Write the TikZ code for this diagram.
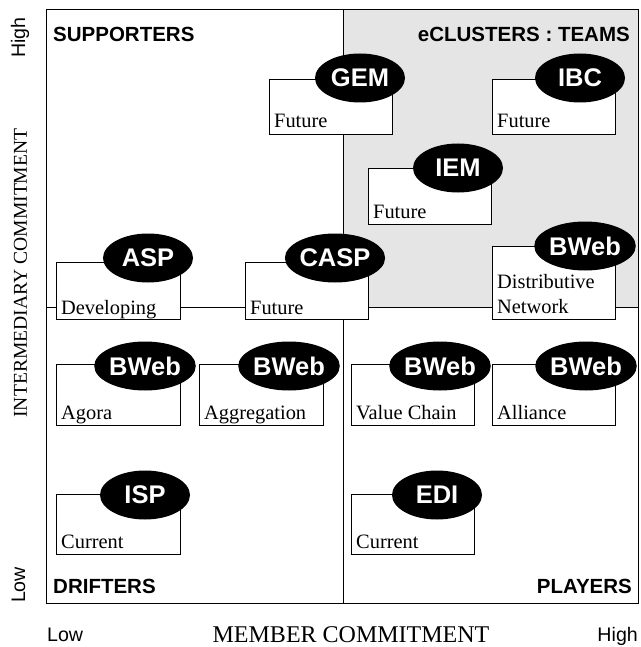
\documentclass[tikz,border=0pt]{standalone}
\usepackage{fontspec}
\setmainfont{Liberation Serif}
\newfontfamily\lsans{Liberation Sans}
\usetikzlibrary{shapes.geometric}
\tikzset{
  frameline/.style={draw=black, line width=1pt},
  cbox/.style={draw=black, line width=1pt, fill=white, anchor=north west, inner sep=0pt, minimum width=123pt},
  tag/.style={ellipse, fill=black, text=white, inner sep=0pt, minimum width=90pt, minimum height=49pt, font=\lsans\bfseries\fontsize{25.5}{26}\selectfont},
  btext/.style={anchor=base west, inner sep=0pt, font=\fontsize{20.4}{25}\selectfont, align=left},
  quad/.style={inner sep=0pt, font=\lsans\bfseries\fontsize{20.5}{22}\selectfont},
  axlab/.style={inner sep=0pt, font=\lsans\fontsize{19.6}{20}\selectfont},
  axtitle/.style={inner sep=0pt}
}
\begin{document}
\begin{tikzpicture}[x=1pt,y=-1pt]
\useasboundingbox (0,0) rectangle (640,647);
% shaded quadrant
\fill[gray!20] (343,10) rectangle (638,307);
% mid lines and frame
\coordinate (ml) at (46,307);
\coordinate (mr) at (638,307);
\coordinate (mt) at (343,10);
\coordinate (mb) at (343,603);
\draw[frameline] (ml) -- (mr);
\draw[frameline] (mt) -- (mb);
\draw[frameline] (46,10) rectangle (638,603);
% quadrant labels
\node[quad, anchor=base west] (supp) at (53,42) {SUPPORTERS};
\node[quad, anchor=base east] (team) at (630,42) {eCLUSTERS : TEAMS};
\node[quad, anchor=base west] (drift) at (53,593) {DRIFTERS};
\node[quad, anchor=base east] (play) at (632,593) {PLAYERS};
% axis labels
\node[axlab, anchor=base west] (xlow) at (47,641) {Low};
\node[axlab, anchor=base east] (xhigh) at (638,641) {High};
\node[axtitle, anchor=base, font=\fontsize{24}{26}\selectfont] (xtitle) at (351,642) {MEMBER COMMITMENT};
\node[axlab, anchor=base, rotate=90] (yhigh) at (25,37.5) {High};
\node[axlab, anchor=base, rotate=90] (ylow) at (25,585) {Low};
\node[axtitle, anchor=base, rotate=90, font=\fontsize{19.6}{22}\selectfont] (ytitle) at (27,273) {INTERMEDIARY COMMITMENT};
% boxes
\node[cbox, minimum height=55pt] (gemb) at (269,79) {};
\node[btext] (gemt) at (274,128) {Future};
\node[tag] (gem) at (360,78) {GEM};

\node[cbox, minimum height=55pt] (ibcb) at (492,79) {};
\node[btext] (ibct) at (497,128) {Future};
\node[tag] (ibc) at (580,78) {IBC};

\node[cbox, minimum height=56pt] (iemb) at (368,168) {};
\node[btext] (iemt) at (373,218) {Future};
\node[tag] (iem) at (458,168) {IEM};

\node[cbox, minimum height=57pt, minimum width=124pt] (aspb) at (56,262) {};
\node[btext] (aspt) at (61,314) {Developing};
\node[tag] (asp) at (148,258) {ASP};

\node[cbox, minimum height=57pt] (caspb) at (245,262) {};
\node[btext] (caspt) at (250,314) {Future};
\node[tag] (casp) at (335,258) {CASP};

\node[cbox, minimum height=73pt] (dnb) at (492,246) {};
\node[btext] (dnt) at (497,313) {Distributive\\Network};
\node[tag] (dn) at (585,246) {BWeb};

\node[cbox, minimum height=61pt, minimum width=124pt] (agb) at (56,364) {};
\node[btext] (agt) at (61,419) {Agora};
\node[tag] (ag) at (145,366) {BWeb};

\node[cbox, minimum height=61pt, minimum width=124pt] (aggb) at (199,364) {};
\node[btext] (aggt) at (204,419) {Aggregation};
\node[tag] (agg) at (289,366) {BWeb};

\node[cbox, minimum height=61pt] (vcb) at (351,364) {};
\node[btext] (vct) at (356,419) {Value Chain};
\node[tag] (vc) at (440,366) {BWeb};

\node[cbox, minimum height=61pt] (alb) at (492,364) {};
\node[btext] (alt) at (497,419) {Alliance};
\node[tag] (al) at (586,366) {BWeb};

\node[cbox, minimum height=60pt, minimum width=124pt] (ispb) at (56,494) {};
\node[btext] (ispt) at (61,548) {Current};
\node[tag] (isp) at (145,495) {ISP};

\node[cbox, minimum height=60pt] (edib) at (351,494) {};
\node[btext] (edit) at (356,548) {Current};
\node[tag] (edi) at (437,495) {EDI};
\end{tikzpicture}
\end{document}
